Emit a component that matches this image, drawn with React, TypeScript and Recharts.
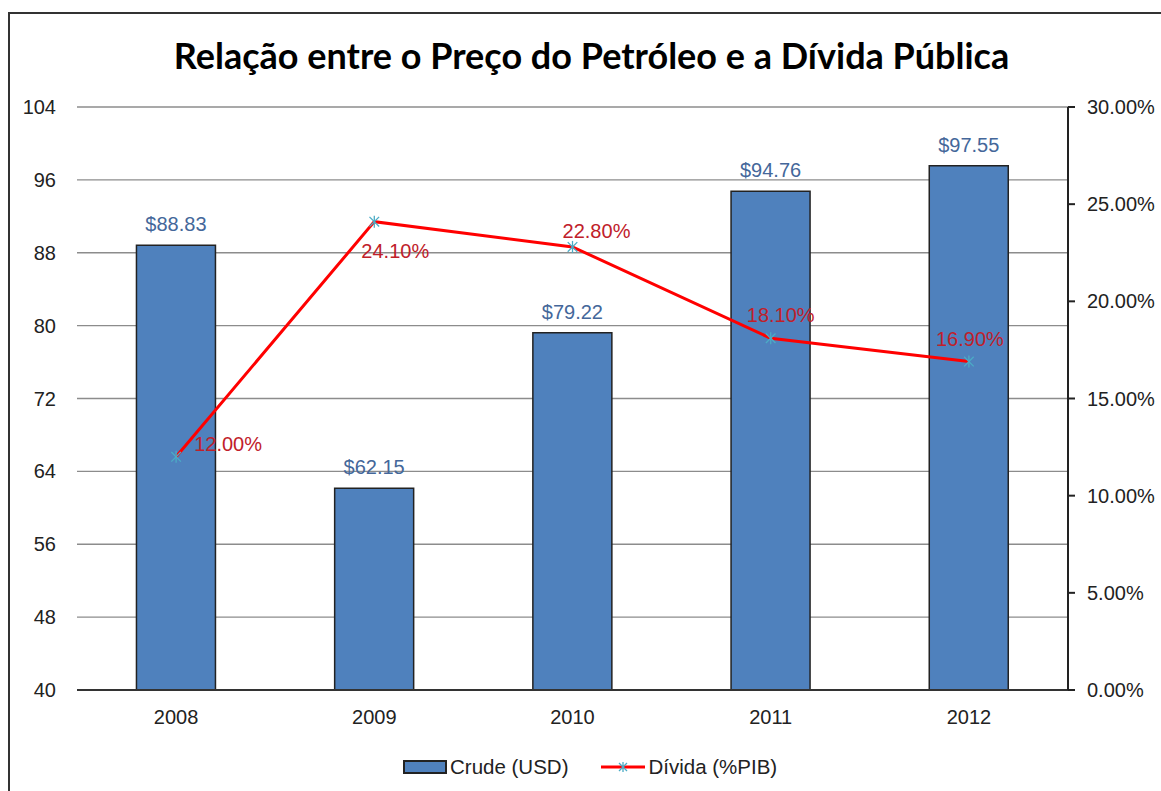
import { ComposedChart, Bar, Line, XAxis, YAxis, CartesianGrid, Legend, LabelList } from 'recharts';

const years = ['2008', '2009', '2010', '2011', '2012'];
const crudeUsd = [88.83, 62.15, 79.22, 94.76, 97.55];
const dividaPib = [12.0, 24.1, 22.8, 18.1, 16.9];
const leftTicks = [40, 48, 56, 64, 72, 80, 88, 96, 104];
const rightTicks = [0, 5, 10, 15, 20, 25, 30];

const data = years.map((year, i) => ({
  year,
  crude: crudeUsd[i],
  divida: dividaPib[i],
}));

// where each % label sits relative to its point (dx, dy of text centre)
const lineLabelOffsets = [
  [52, -13],
  [21, 29],
  [24, -16],
  [10, -23],
  [1, -23],
];

const FONT = '"Liberation Sans", Arial, sans-serif';
const BAR_BLUE = '#4F81BD';
const LINE_RED = '#FF0000';
const STAR_BLUE = '#4BACC6';

function Star({ cx, cy, size = 6 }: { cx: number; cy: number; size?: number }) {
  const d = size * 0.8;
  return (
    <g stroke={STAR_BLUE} strokeWidth={1.3}>
      <line x1={cx} y1={cy - size} x2={cx} y2={cy + size} />
      <line x1={cx - d} y1={cy - d} x2={cx + d} y2={cy + d} />
      <line x1={cx - d} y1={cy + d} x2={cx + d} y2={cy - d} />
    </g>
  );
}

function StarDot(props: any) {
  const { cx, cy, index } = props;
  if (cx == null || cy == null) return <g key={index} />;
  return <Star key={index} cx={cx} cy={cy} />;
}

function PctLabel(props: any) {
  const { x, y, index, value } = props;
  const [dx, dy] = lineLabelOffsets[index] || [0, -20];
  return (
    <text
      x={x + dx}
      y={y + dy}
      textAnchor="middle"
      dominantBaseline="central"
      fill="#C0202A"
      fontSize={20}
      fontFamily={FONT}
    >
      {value.toFixed(2)}%
    </text>
  );
}

function PriceLabel(props: any) {
  const { x, y, width, value } = props;
  return (
    <text
      x={x + width / 2}
      y={y - 21}
      textAnchor="middle"
      dominantBaseline="central"
      fill="#44679A"
      fontSize={20}
      fontFamily={FONT}
    >
      ${value.toFixed(2)}
    </text>
  );
}

function LegendContent() {
  return (
    <div
      style={{
        display: 'flex',
        alignItems: 'center',
        height: 30,
        fontFamily: FONT,
        fontSize: 20.5,
        color: '#222',
      }}
    >
      <span
        style={{
          display: 'inline-block',
          width: 40,
          height: 10,
          background: BAR_BLUE,
          border: '2px solid #222',
          marginRight: 3,
        }}
      />
      <span>Crude (USD)</span>
      <svg width={44} height={20} style={{ marginLeft: 33, marginRight: 3 }}>
        <line x1={0} y1={10} x2={44} y2={10} stroke={LINE_RED} strokeWidth={3} />
        <Star cx={22} cy={10} size={5} />
      </svg>
      <span>Dívida (%PIB)</span>
    </div>
  );
}

export default function App() {
  return (
    <div
      style={{
        position: 'absolute',
        left: 0,
        top: 0,
        width: 1161,
        height: 791,
        overflow: 'hidden',
        background: '#fff',
      }}
    >
      <div
        style={{
          position: 'absolute',
          left: 8,
          top: 12,
          width: 1300,
          height: 900,
          borderLeft: '2px solid #333',
          borderTop: '2px solid #333',
        }}
      />
      <div
        style={{
          position: 'absolute',
          left: 0,
          top: 33,
          width: 1183,
          textAlign: 'center',
          fontFamily: 'Lato, "Open Sans", sans-serif',
          fontWeight: 700,
          fontSize: 36,
          color: '#000',
        }}
      >
        Relação entre o Preço do Petróleo e a Dívida Pública
      </div>
      <ComposedChart
        width={1161}
        height={791}
        data={data}
        margin={{ top: 107, right: 0, bottom: 9, left: 0 }}
        barCategoryGap="30%"
      >
        <CartesianGrid yAxisId="left" vertical={false} stroke="#8c8c8c" strokeWidth={1.3} />
        <XAxis
          dataKey="year"
          height={62}
          tickLine={false}
          tickSize={0}
          tickMargin={20}
          axisLine={{ stroke: '#333', strokeWidth: 2 }}
          tick={{ fill: '#222', fontSize: 20, fontFamily: FONT }}
        />
        <YAxis
          yAxisId="left"
          orientation="left"
          width={77}
          domain={[40, 104]}
          ticks={leftTicks}
          axisLine={false}
          tickLine={false}
          tickSize={0}
          tickMargin={21}
          tick={{ fill: '#222', fontSize: 20, fontFamily: FONT }}
        />
        <YAxis
          yAxisId="right"
          orientation="right"
          width={93}
          domain={[0, 30]}
          ticks={rightTicks}
          tickFormatter={(v: number) => v.toFixed(2) + '%'}
          axisLine={{ stroke: '#222', strokeWidth: 2 }}
          tickLine={{ stroke: '#222', strokeWidth: 2 }}
          tickSize={7}
          tickMargin={12}
          tick={{ fill: '#222', fontSize: 20, fontFamily: FONT }}
        />
        <Legend
          verticalAlign="bottom"
          content={<LegendContent />}
          wrapperStyle={{ left: 403, width: 420, height: 30 }}
        />
        <Bar
          yAxisId="left"
          dataKey="crude"
          name="Crude (USD)"
          fill={BAR_BLUE}
          stroke="#222"
          strokeWidth={1.5}
          isAnimationActive={false}
        >
          <LabelList dataKey="crude" content={<PriceLabel />} />
        </Bar>
        <Line
          yAxisId="right"
          dataKey="divida"
          name="Dívida (%PIB)"
          type="linear"
          stroke={LINE_RED}
          strokeWidth={3}
          dot={<StarDot />}
          activeDot={false}
          isAnimationActive={false}
        >
          <LabelList dataKey="divida" content={<PctLabel />} />
        </Line>
      </ComposedChart>
    </div>
  );
}
